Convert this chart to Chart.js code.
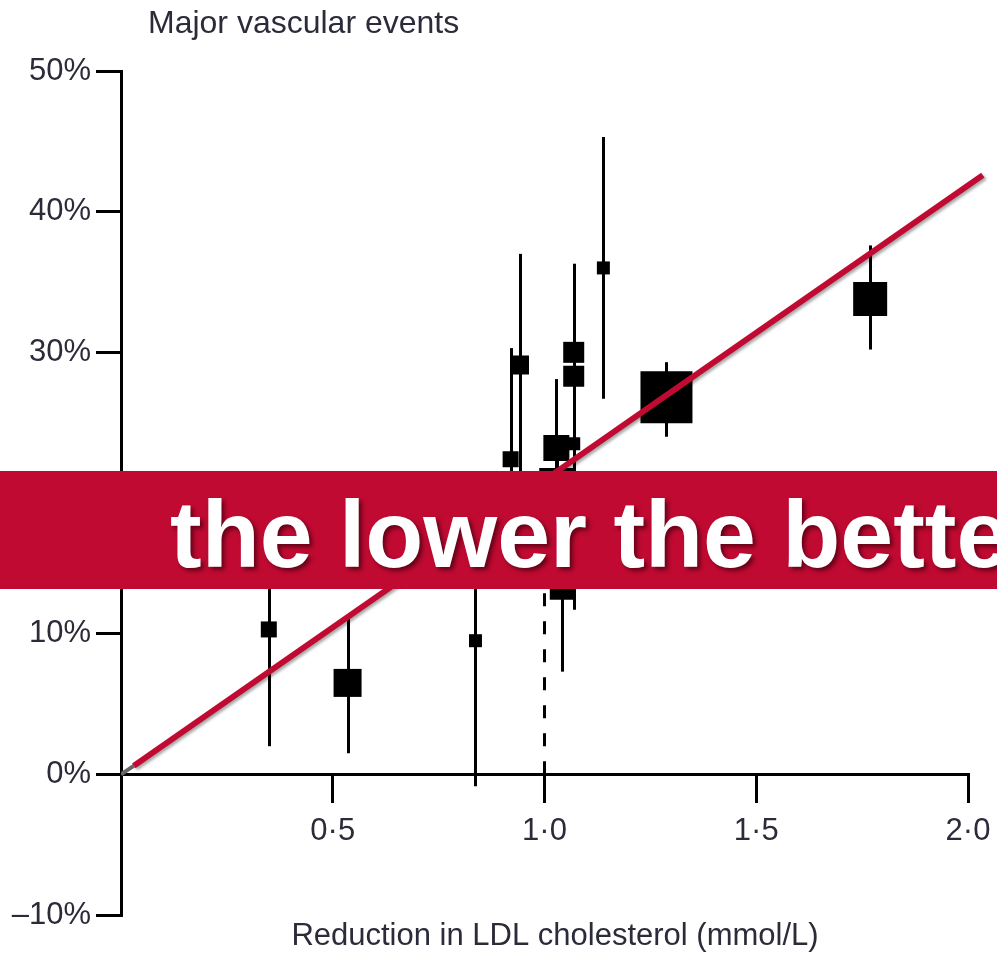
<!DOCTYPE html>
<html>
<head>
<meta charset="utf-8">
<script src="https://cdn.jsdelivr.net/npm/chart.js@4/dist/chart.umd.min.js"></script>
<style>
  html, body { margin: 0; padding: 0; background: #fff; }
  canvas { display: block; }
</style>
</head>
<body>
<canvas id="chart-ldl" width="997" height="953"></canvas>
<script>
// trial results: LDL reduction (mmol/L) vs. proportional risk reduction (%)
const reduction = [0.349, 0.535, 0.837, 0.920, 0.941, 1.028, 1.030, 1.042, 1.069, 1.069, 1.069, 1.139, 1.288, 1.769];
const riskCut   = [10.3, 6.5, 9.5, 22.4, 29.1, 23.2, 20.5, 13.3, 30.0, 28.3, 23.5, 36.0, 26.8, 33.8];
const ciLow     = [2.0, 1.5, -0.85, 14.5, 21.0, 18.3, 17.0, 7.3, 24.5, 22.0, 11.7, 26.7, 24.0, 30.2];
const ciHigh    = [18.6, 11.2, 20.0, 30.3, 37.0, 28.1, 24.0, 19.5, 36.3, 34.0, 35.0, 45.3, 29.3, 37.6];
// relative study weight, shown as box size
const weight    = [16, 28, 13, 16, 19, 26, 36, 25, 21, 21, 13, 13, 52, 34];

// regression line
const fitX = [0.03, 2.035];
const fitY = [0.6, 42.6];
const fitStartX = [0, 0.03];
const fitStartY = [0, 0.6];

// reference line at 1 mmol/L
const refX = [1.0, 1.0];
const refY = [0, 20];

const yTicks = [-10, 0, 10, 20, 30, 40, 50];
const xTicks = [0.5, 1.0, 1.5, 2.0];

const titleText = 'Major vascular events';
const xTitleText = 'Reduction in LDL cholesterol (mmol/L)';
const bannerText = 'the lower the better';

const textColor = '#2b2b3a';
const crimson = '#c00a32';

const errorBars = {
    id: 'errorBars',
    beforeDatasetsDraw: function(chart) {
        const ctx = chart.ctx;
        const x = chart.scales.x, y = chart.scales.y;
        ctx.save();
        ctx.strokeStyle = '#000';
        ctx.lineWidth = 3;
        reduction.forEach((v, i) => {
            const px = Math.round(x.getPixelForValue(v)) + 0.5;
            ctx.beginPath();
            ctx.moveTo(px, y.getPixelForValue(ciLow[i]));
            ctx.lineTo(px, y.getPixelForValue(ciHigh[i]));
            ctx.stroke();
        });
        ctx.restore();
    }
};

// soft shadow under the regression line
const lineShadow = {
    id: 'lineShadow',
    beforeDatasetDraw: function(chart, args) {
        if (args.index !== 0) return;
        const ctx = chart.ctx;
        ctx.save();
        ctx.shadowColor = 'rgba(0,0,0,0.35)';
        ctx.shadowOffsetX = 2;
        ctx.shadowOffsetY = 2;
        ctx.shadowBlur = 3;
    },
    afterDatasetDraw: function(chart, args) {
        if (args.index !== 0) return;
        chart.ctx.restore();
    }
};

const labels = {
    id: 'labels',
    afterDraw: function(chart) {
        const ctx = chart.ctx;
        ctx.save();
        ctx.fillStyle = textColor;
        ctx.textBaseline = 'alphabetic';
        ctx.font = '32px "Liberation Sans", Arial, sans-serif';
        ctx.textAlign = 'left';
        ctx.fillText(titleText, 148, 33);
        ctx.font = '31px "Liberation Sans", Arial, sans-serif';
        ctx.textAlign = 'center';
        ctx.fillText(xTitleText, 555, 945);

        // banner across the plot
        ctx.fillStyle = crimson;
        ctx.fillRect(0, 471, chart.width, 118);
        ctx.font = 'bold 95px "Liberation Sans", Arial, sans-serif';
        ctx.textAlign = 'left';
        ctx.shadowColor = 'rgba(70,0,15,0.75)';
        ctx.shadowOffsetX = 3;
        ctx.shadowOffsetY = 3;
        ctx.shadowBlur = 4;
        ctx.fillStyle = '#fff';
        ctx.fillText(bannerText, 170, 567);
        ctx.restore();
    }
};

new Chart(document.getElementById('chart-ldl'), {
    type: 'scatter',
    data: {
        datasets: [
            {
                type: 'line',
                data: fitX.map((v, i) => ({ x: v, y: fitY[i] })),
                borderColor: crimson,
                borderWidth: 6,
                pointRadius: 0,
                clip: false,
                order: 0
            },
            {
                type: 'line',
                data: fitStartX.map((v, i) => ({ x: v, y: fitStartY[i] })),
                borderColor: '#666',
                borderWidth: 4,
                pointRadius: 0,
                order: 1
            },
            {
                data: reduction.map((v, i) => ({ x: v, y: riskCut[i] })),
                pointStyle: 'rect',
                pointRadius: weight.map(w => w / Math.SQRT2),
                pointHoverRadius: weight.map(w => w / Math.SQRT2),
                backgroundColor: '#000',
                borderColor: '#000',
                borderWidth: 0,
                order: 2
            },
            {
                type: 'line',
                data: refX.map((v, i) => ({ x: v, y: refY[i] })),
                borderColor: '#000',
                borderWidth: 3,
                borderDash: [13, 15],
                pointRadius: 0,
                order: 3
            }
        ]
    },
    options: {
        responsive: false,
        animation: false,
        layout: { autoPadding: false, padding: { left: 0, top: 71, right: 29, bottom: 38 } },
        plugins: {
            legend: { display: false },
            tooltip: { enabled: false }
        },
        scales: {
            x: {
                type: 'linear',
                min: 0,
                max: 2,
                position: { y: 0 },
                afterFit: function(scale) {
                    scale.height = 0;
                    scale.paddingLeft = 0;
                    scale.paddingRight = 0;
                },
                afterBuildTicks: function(scale) {
                    scale.ticks = [0].concat(xTicks).map(v => ({ value: v }));
                },
                ticks: {
                    color: textColor,
                    padding: 12,
                    font: { family: '"Liberation Sans", Arial, sans-serif', size: 31 },
                    callback: v => v === 0 ? '' : v.toFixed(1).replace('.', '\u00b7')
                },
                grid: { drawOnChartArea: false, drawTicks: true, tickLength: 27, color: '#000', lineWidth: 3 },
                border: { display: true, color: '#000', width: 3 }
            },
            y: {
                min: -10,
                max: 50,
                afterFit: function(scale) {
                    scale.width = 121;
                    scale.paddingTop = 0;
                    scale.paddingBottom = 0;
                },
                afterBuildTicks: function(scale) {
                    scale.ticks = yTicks.map(v => ({ value: v }));
                },
                ticks: {
                    color: textColor,
                    padding: 5,
                    font: { family: '"Liberation Sans", Arial, sans-serif', size: 31 },
                    callback: v => (v < 0 ? '\u2013' + Math.abs(v) : v) + '%'
                },
                grid: { drawOnChartArea: false, drawTicks: true, tickLength: 25, color: '#000', lineWidth: 3 },
                border: { display: true, color: '#000', width: 3 }
            }
        }
    },
    plugins: [errorBars, lineShadow, labels]
});
</script>
</body>
</html>
